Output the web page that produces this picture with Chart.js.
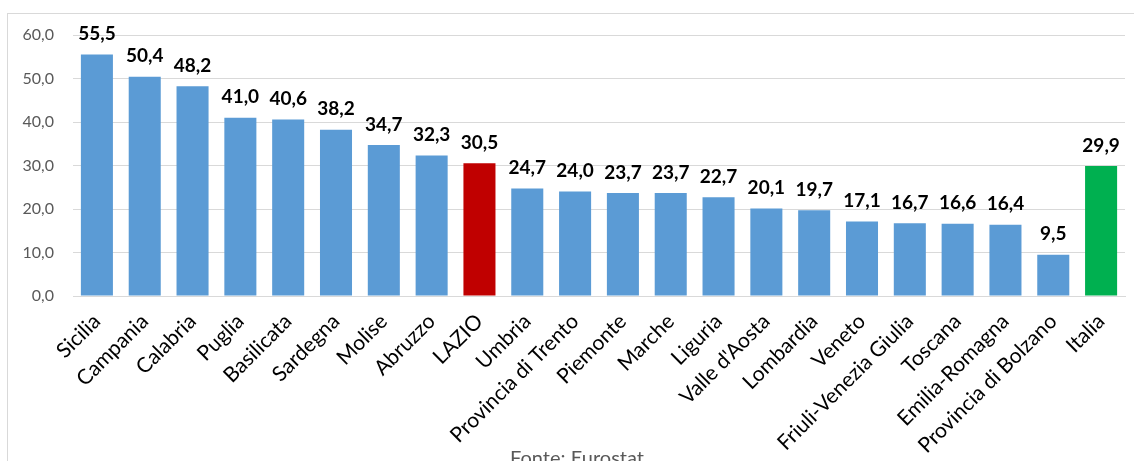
<!DOCTYPE html>
<html>
<head>
<meta charset="utf-8">
<script src="https://cdn.jsdelivr.net/npm/chart.js@4/dist/chart.umd.min.js"></script>
<style>
  html, body { margin: 0; padding: 0; background: #fff; overflow: hidden; }
  #wrap { position: relative; width: 1134px; height: 461px; overflow: hidden; }
  #frame { position: absolute; left: 7px; top: 13px; width: 1200px; height: 600px; border: 1px solid #D9D9D9; box-sizing: border-box; }
  canvas { position: absolute; left: 0; top: 0; }
</style>
</head>
<body>
<div id="wrap">
  <div id="frame"></div>
  <canvas id="c" width="1134" height="480"></canvas>
</div>
<script>
const regions = ["Sicilia", "Campania", "Calabria", "Puglia", "Basilicata", "Sardegna", "Molise", "Abruzzo", "LAZIO", "Umbria", "Provincia di Trento", "Piemonte", "Marche", "Liguria", "Valle d'Aosta", "Lombardia", "Veneto", "Friuli-Venezia Giulia", "Toscana", "Emilia-Romagna", "Provincia di Bolzano", "Italia"];
const values = [55.5, 50.4, 48.2, 41.0, 40.6, 38.2, 34.7, 32.3, 30.5, 24.7, 24.0, 23.7, 23.7, 22.7, 20.1, 19.7, 17.1, 16.7, 16.6, 16.4, 9.5, 29.9];
const yTicks = [0, 10, 20, 30, 40, 50, 60];
const sourceNote = "Fonte: Eurostat";

const fmt = v => v.toFixed(1).replace('.', ',');
const barColors = regions.map(r => r === 'LAZIO' ? '#C00000' : (r === 'Italia' ? '#00B050' : '#5B9BD5'));

const valueLabels = {
  id: 'valueLabels',
  afterDatasetsDraw(chart) {
    const ctx = chart.ctx;
    const meta = chart.getDatasetMeta(0);
    ctx.save();
    ctx.font = 'bold 19px Lato, "Open Sans", sans-serif';
    ctx.fillStyle = '#000';
    ctx.textAlign = 'center';
    ctx.textBaseline = 'bottom';
    meta.data.forEach((bar, i) => {
      ctx.fillText(fmt(values[i]), bar.x, bar.y - 11);
    });
    ctx.restore();
  }
};

const sourceText = {
  id: 'sourceText',
  afterDraw(chart) {
    const ctx = chart.ctx;
    ctx.save();
    ctx.font = '20px Lato, "Open Sans", sans-serif';
    ctx.fillStyle = '#595959';
    ctx.textAlign = 'center';
    ctx.textBaseline = 'top';
    ctx.fillText(sourceNote, 577, 449);
    ctx.restore();
  }
};

new Chart(document.getElementById('c'), {
  type: 'bar',
  data: {
    labels: regions,
    datasets: [{
      data: values,
      backgroundColor: barColors,
      borderWidth: 0,
      categoryPercentage: 1.0,
      barPercentage: 0.67
    }]
  },
  options: {
    responsive: false,
    animation: false,
    layout: { padding: { top: 35, right: 9, left: 0, bottom: 0 } },
    plugins: { legend: { display: false }, tooltip: { enabled: false } },
    scales: {
      x: {
        grid: { display: false, drawTicks: false },
        border: { display: true, color: '#D9D9D9', width: 1 },
        ticks: {
          color: '#000',
          font: { family: 'Lato, "Open Sans", sans-serif', size: 21 },
          minRotation: 45,
          maxRotation: 45,
          autoSkip: false,
          padding: 13
        },
        afterFit(scale) { scale.height = 480 - 296; }
      },
      y: {
        min: 0,
        max: 60,
        afterBuildTicks(scale) { scale.ticks = yTicks.map(v => ({ value: v })); },
        grid: { color: '#D9D9D9', lineWidth: 1, drawTicks: false },
        border: { display: false },
        ticks: {
          color: '#595959',
          font: { family: 'Lato, "Open Sans", sans-serif', size: 16 },
          padding: 19,
          callback: v => fmt(v)
        },
        afterFit(scale) { scale.width = 73; }
      }
    }
  },
  plugins: [valueLabels, sourceText]
});
</script>
</body>
</html>
